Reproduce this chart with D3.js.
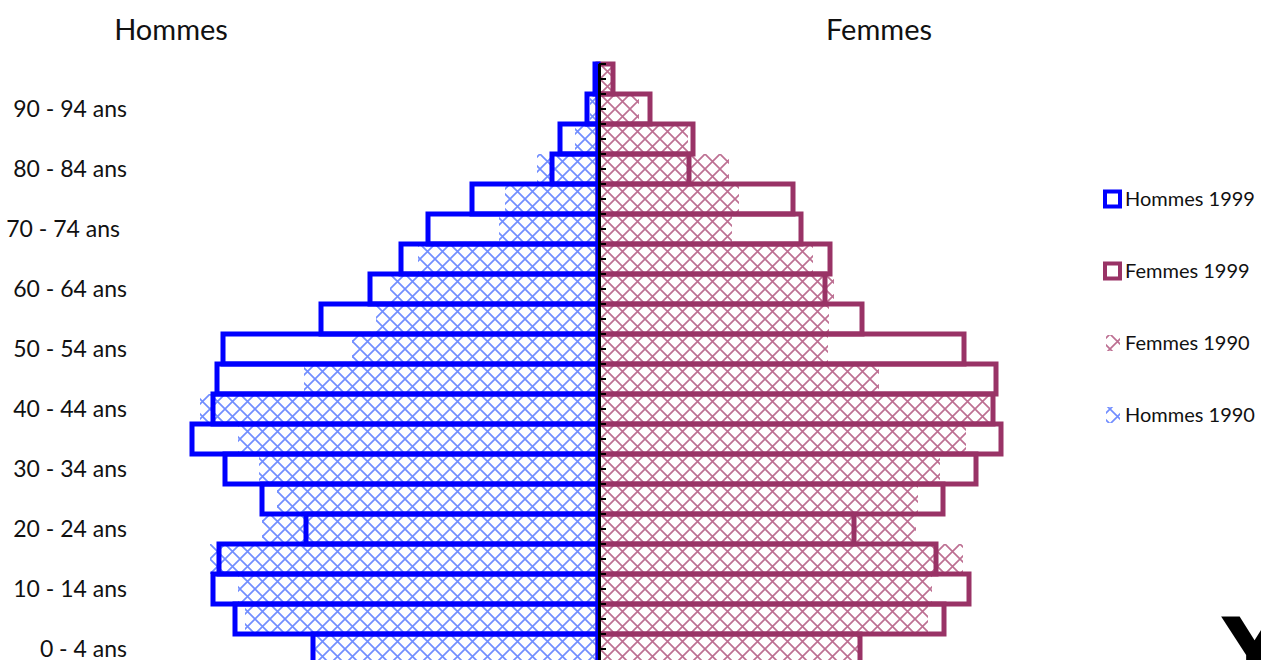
<!DOCTYPE html>
<html>
<head>
<meta charset="utf-8">
<script src="https://cdn.jsdelivr.net/npm/d3@7/dist/d3.min.js"></script>
<style>
  body { margin: 0; background: #fff; }
  svg { display: block; font-family: Lato, "Open Sans", sans-serif; }
</style>
</head>
<body>
<svg id="chart" width="1261" height="660"></svg>
<script>
// age groups, bottom to top
const ageGroups = ['0 - 4 ans', '5 - 9 ans', '10 - 14 ans', '15 - 19 ans', '20 - 24 ans',
  '25 - 29 ans', '30 - 34 ans', '35 - 39 ans', '40 - 44 ans', '45 - 49 ans',
  '50 - 54 ans', '55 - 59 ans', '60 - 64 ans', '65 - 69 ans', '70 - 74 ans',
  '75 - 79 ans', '80 - 84 ans', '85 - 89 ans', '90 - 94 ans', '95 ans et +'];
const shownLabels = ['0 - 4 ans', '10 - 14 ans', '20 - 24 ans', '30 - 34 ans', '40 - 44 ans',
  '50 - 54 ans', '60 - 64 ans', '70 - 74 ans', '80 - 84 ans', '90 - 94 ans'];

const hommes1999 = [28.5, 36.3, 38.5, 37.9, 29.2, 33.6, 37.3, 40.6, 38.5, 38.1,
  37.5, 27.7, 22.8, 19.7, 17.0, 12.6, 4.6, 3.8, 1.1, 0.3];
const hommes1990 = [28.3, 35.3, 36.0, 38.8, 33.6, 32.1, 33.9, 36.0, 39.8, 29.4,
  24.6, 22.2, 20.8, 18.0, 9.9, 9.3, 6.1, 2.3, 0.8, 0.2];
const femmes1999 = [26.2, 34.6, 37.1, 33.8, 25.6, 34.5, 37.8, 40.3, 39.5, 39.8,
  36.6, 26.4, 22.7, 23.2, 20.3, 19.5, 9.1, 9.5, 5.2, 1.5];
const femmes1990 = [26.0, 33.0, 33.4, 36.5, 31.8, 32.0, 34.2, 36.8, 39.2, 28.1,
  23.0, 23.1, 23.6, 21.5, 13.4, 14.1, 13.1, 9.0, 4.1, 1.3];

const legendItems = ['Hommes 1999', 'Femmes 1999', 'Femmes 1990', 'Hommes 1990'];

const BLUE = '#0000ff';
const PLUM = '#993366';
const HATCH_BLUE = '#4f72ff';
const HATCH_PLUM = '#ad4c78';

const svg = d3.select('#chart');
const x0 = 598;

const xMen = d3.scaleLinear().domain([0, 45]).range([x0, x0 - 450]);
const xWomen = d3.scaleLinear().domain([0, 45]).range([x0, x0 + 450]);
const y = d3.scaleBand().domain(ageGroups).range([664, 64]).padding(0);

// crosshatch patterns
const defs = svg.append('defs');
const makeHatch = (id, color) => {
  const p = defs.append('pattern')
    .attr('id', id)
    .attr('patternUnits', 'userSpaceOnUse')
    .attr('width', 15)
    .attr('height', 15)
    .attr('x', 0)
    .attr('y', 4);
  p.append('path')
    .attr('d', 'M0,0L15,15M15,0L0,15M-1,14L1,16M14,-1L16,1')
    .attr('stroke', color)
    .attr('stroke-width', 1.7)
    .attr('stroke-opacity', 0.8)
    .attr('fill', 'none');
};
makeHatch('hatchBlue', HATCH_BLUE);
makeHatch('hatchPlum', HATCH_PLUM);

// 1990 hatched bars
svg.append('g').selectAll('rect')
  .data(femmes1990)
  .join('rect')
  .attr('x', x0)
  .attr('y', (d, i) => y(ageGroups[i]))
  .attr('width', d => xWomen(d) - x0)
  .attr('height', y.bandwidth())
  .attr('fill', 'url(#hatchPlum)');

svg.append('g').selectAll('rect')
  .data(hommes1990)
  .join('rect')
  .attr('x', d => xMen(d))
  .attr('y', (d, i) => y(ageGroups[i]))
  .attr('width', d => x0 - xMen(d))
  .attr('height', y.bandwidth())
  .attr('fill', 'url(#hatchBlue)');

// 1999 outlined bars
svg.append('g').selectAll('rect')
  .data(femmes1999)
  .join('rect')
  .attr('x', x0)
  .attr('y', (d, i) => y(ageGroups[i]))
  .attr('width', d => xWomen(d) - x0)
  .attr('height', y.bandwidth())
  .attr('fill', 'none')
  .attr('stroke', PLUM)
  .attr('stroke-width', 5);

svg.append('g').selectAll('rect')
  .data(hommes1999)
  .join('rect')
  .attr('x', d => xMen(d))
  .attr('y', (d, i) => y(ageGroups[i]))
  .attr('width', d => x0 - xMen(d))
  .attr('height', y.bandwidth())
  .attr('fill', 'none')
  .attr('stroke', BLUE)
  .attr('stroke-width', 5);

// central axis with half-row ticks
const axisG = svg.append('g');
axisG.append('line')
  .attr('x1', x0 + 1.5).attr('x2', x0 + 1.5)
  .attr('y1', 64).attr('y2', 664)
  .attr('stroke', '#000')
  .attr('stroke-width', 3);
const tickYs = d3.range(ageGroups.length * 2 + 1)
  .map(k => y.range()[1] + k * y.bandwidth() / 2);
axisG.selectAll('.tick')
  .data(tickYs)
  .join('line')
  .attr('class', 'tick')
  .attr('x1', x0 + 1).attr('x2', x0 + 8)
  .attr('y1', d => d).attr('y2', d => d)
  .attr('stroke', '#000')
  .attr('stroke-width', 2);

// age labels
svg.append('g').selectAll('text')
  .data(shownLabels)
  .join('text')
  .attr('x', d => d === '70 - 74 ans' ? 120 : 127)
  .attr('y', d => y(d) + y.bandwidth() / 2)
  .attr('dy', '0.34em')
  .attr('text-anchor', 'end')
  .attr('font-size', 23)
  .attr('fill', '#111')
  .text(d => d);

// titles
svg.append('text').attr('x', 171).attr('y', 40).attr('text-anchor', 'middle')
  .attr('font-size', 29).attr('fill', '#111').text('Hommes');
svg.append('text').attr('x', 879).attr('y', 40).attr('text-anchor', 'middle')
  .attr('font-size', 29).attr('fill', '#111').text('Femmes');

// legend
const legend = svg.append('g');
const legY = d3.scalePoint().domain(legendItems).range([199, 415]);
legendItems.forEach(name => {
  const cy = legY(name);
  if (name.endsWith('1999')) {
    legend.append('rect')
      .attr('x', 1105).attr('y', cy - 7.5)
      .attr('width', 15).attr('height', 15)
      .attr('fill', '#fff')
      .attr('stroke', name.startsWith('Hommes') ? BLUE : PLUM)
      .attr('stroke-width', 4);
  } else {
    legend.append('rect')
      .attr('x', 1106).attr('y', cy - 8)
      .attr('width', 14).attr('height', 16)
      .attr('fill', name.startsWith('Hommes') ? 'url(#hatchBlue)' : 'url(#hatchPlum)');
  }
  legend.append('text')
    .attr('x', 1125).attr('y', cy)
    .attr('dy', '0.36em')
    .attr('font-size', 20)
    .attr('fill', '#111')
    .text(name);
});

// clipped logo fragment at bottom right
svg.append('text')
  .attr('x', 1222).attr('y', 683)
  .attr('font-size', 90)
  .attr('font-weight', 'bold')
  .attr('font-family', 'DejaVu Sans')
  .attr('fill', '#000')
  .text('Y');
</script>
</body>
</html>
